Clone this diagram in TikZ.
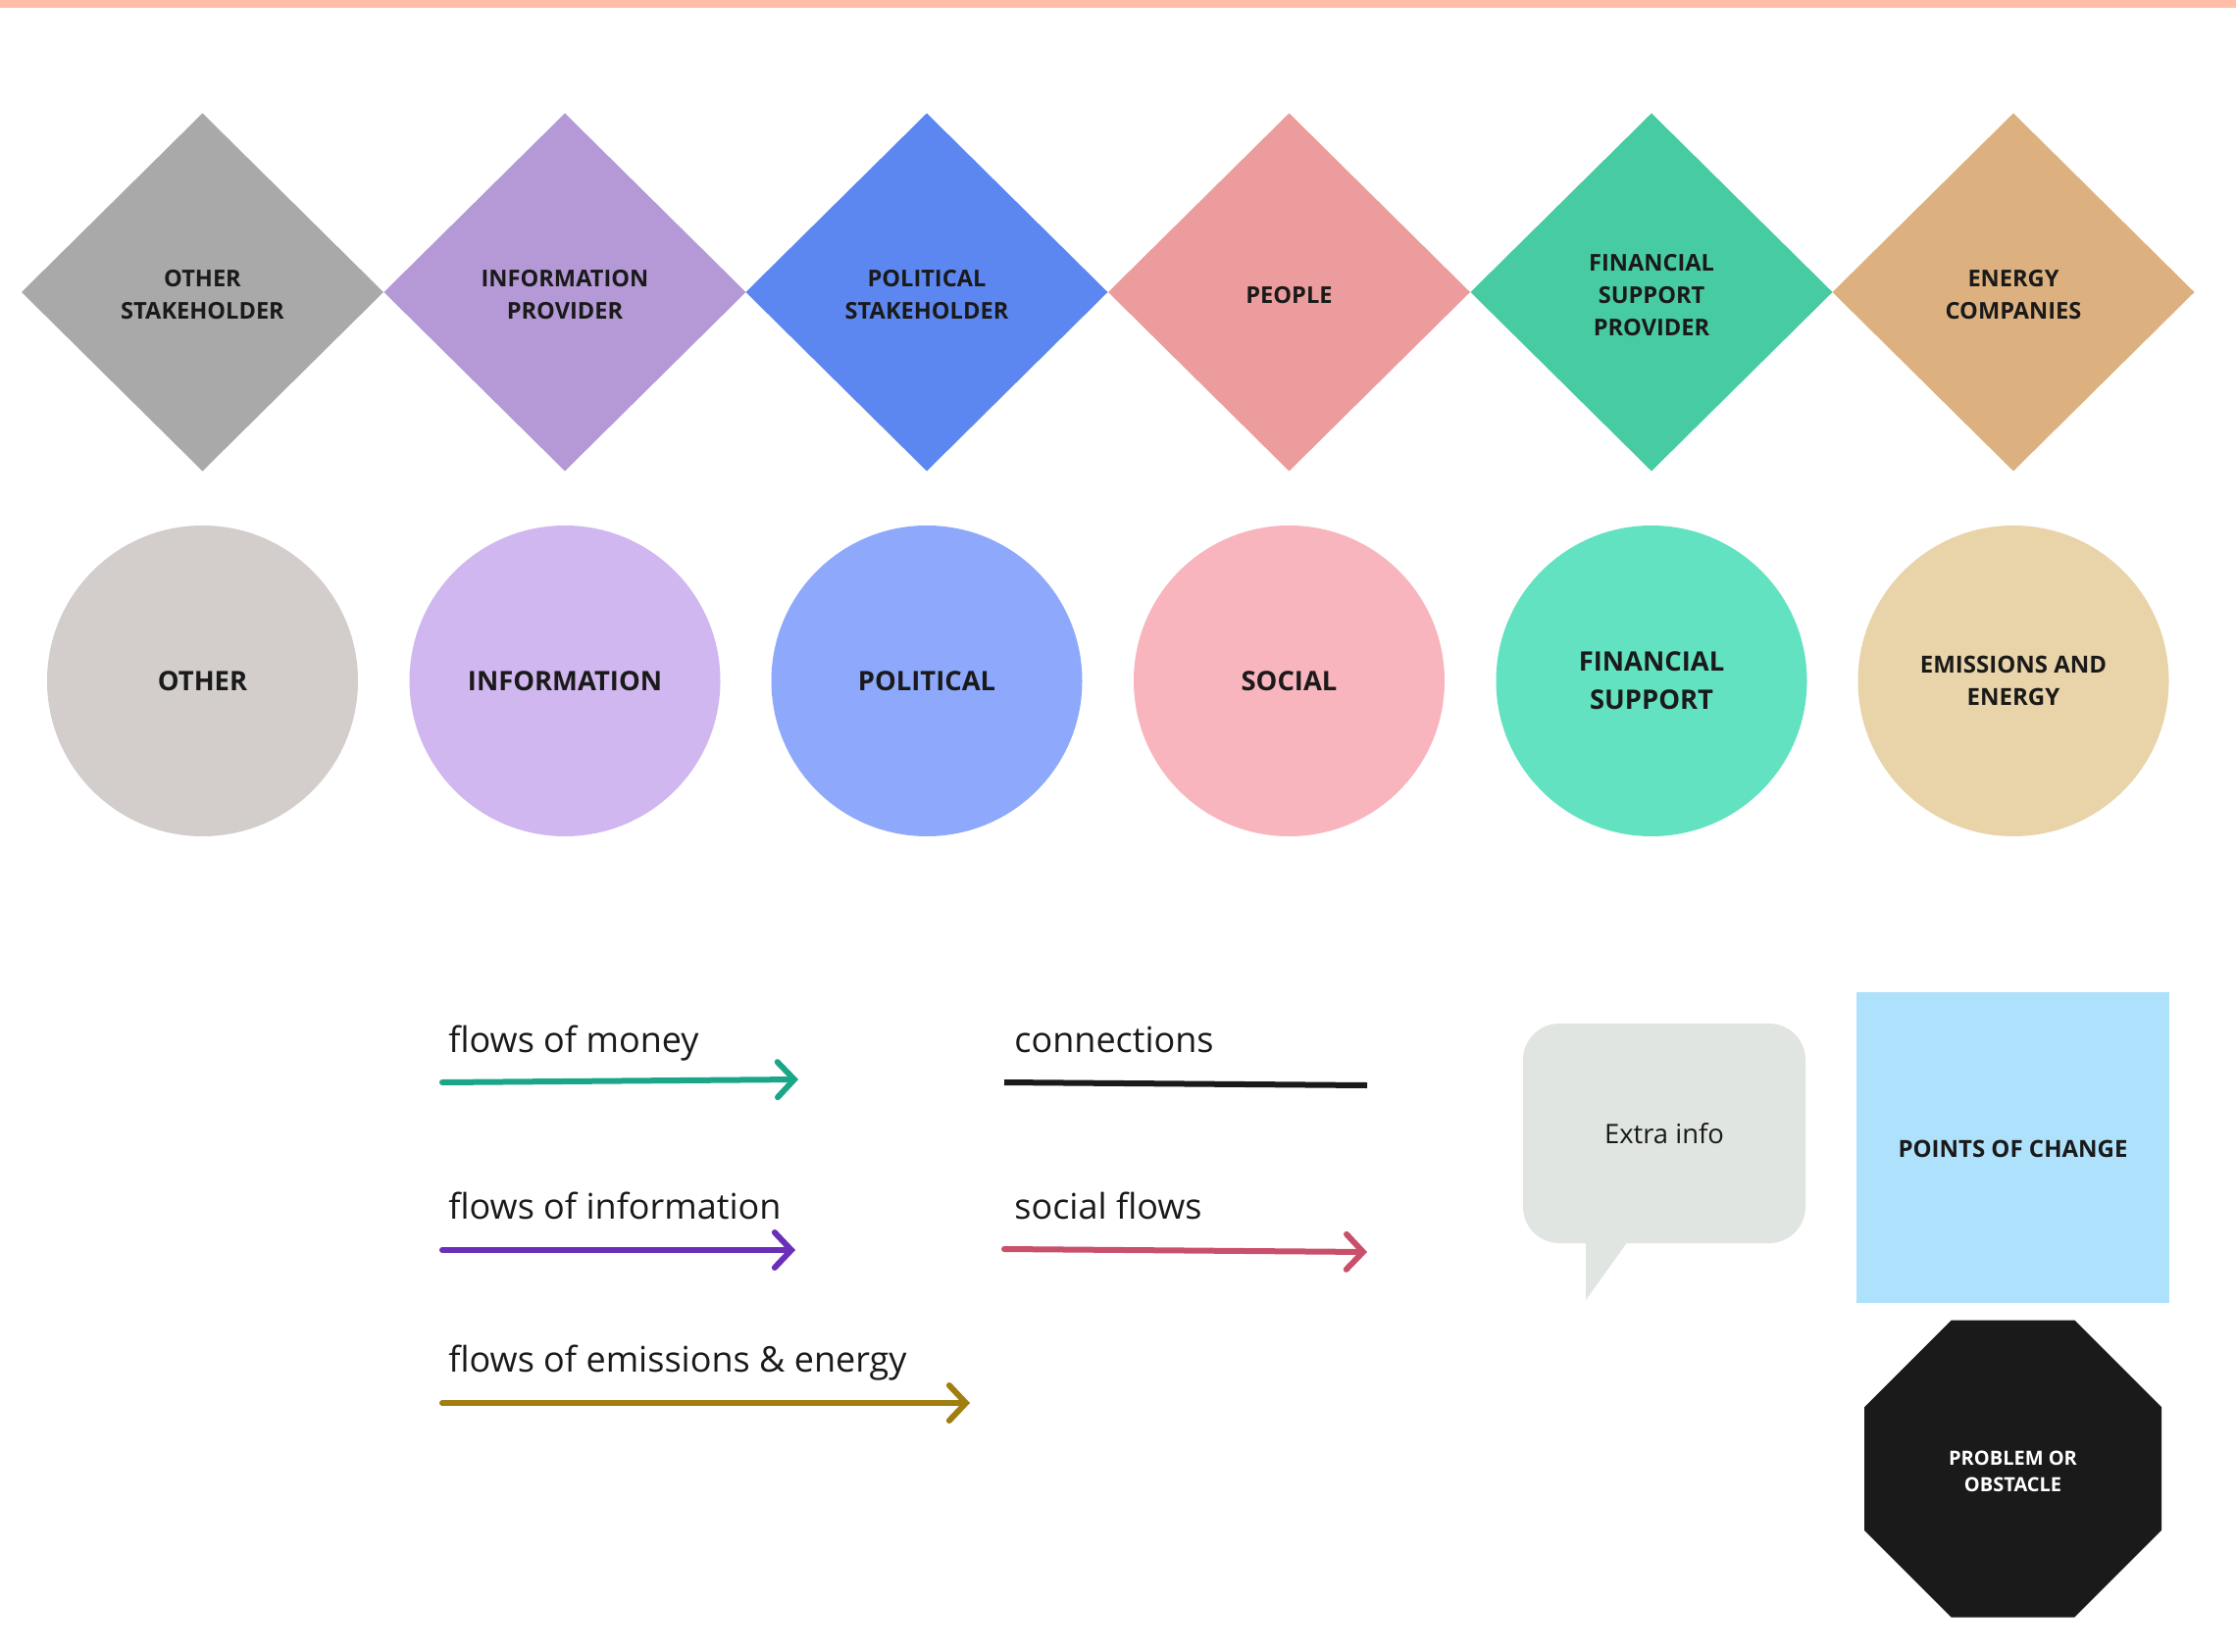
\documentclass[tikz,border=0pt]{standalone}
\usepackage{fontspec}
\setmainfont{Open Sans}
\usetikzlibrary{shapes.geometric,arrows.meta}
\definecolor{topbar}{HTML}{FFBEA5}
\definecolor{txt}{HTML}{1A1A1A}
\definecolor{dgrey}{HTML}{A9A9A9}
\definecolor{dpurple}{HTML}{B499D6}
\definecolor{dblue}{HTML}{5D87F0}
\definecolor{dpink}{HTML}{EC9C9C}
\definecolor{dgreen}{HTML}{47CBA3}
\definecolor{dtan}{HTML}{DDB17F}
\definecolor{cgrey}{HTML}{D3CDCC}
\definecolor{cpurple}{HTML}{D1B7F0}
\definecolor{cblue}{HTML}{8EA9FC}
\definecolor{cpink}{HTML}{F9B5BD}
\definecolor{cgreen}{HTML}{62E2C0}
\definecolor{ctan}{HTML}{E9D3A9}
\definecolor{money}{HTML}{1BA787}
\definecolor{info}{HTML}{6A2FB8}
\definecolor{emis}{HTML}{A07E10}
\definecolor{social}{HTML}{C9506A}
\definecolor{bub}{HTML}{E0E5E2}
\definecolor{poc}{HTML}{AEE1FB}
\begin{document}
\begin{tikzpicture}[x=0.5pt,y=-0.5pt,
  dia/.style={diamond, minimum width=184.5pt, minimum height=182.5pt, inner sep=0pt, outer sep=0pt, align=center, font=\bfseries\fontsize{11.8}{16.5}\selectfont, text=txt},
  dtext/.style={text=txt, align=center, inner sep=0pt, font=\bfseries\fontsize{11.8}{16.5}\selectfont},
  circ/.style={circle, minimum size=158.5pt, inner sep=0pt, outer sep=0pt, align=center, font=\bfseries\fontsize{13.7}{19.5}\selectfont, text=txt},
  lbl/.style={anchor=base west, font=\fontsize{18}{22}\selectfont, text=txt, inner sep=0pt},
  flow/.style={line width=3pt, line cap=round, -{Straight Barb[length=8.5pt,width=18pt,line cap=round]}},
]
\useasboundingbox (0,0) rectangle (2280,1685);
\fill[white] (0,0) rectangle (2280,1685);
\fill[topbar] (0,0) rectangle (2280,8);

% diamonds
\node[dia, fill=dgrey]   (d1) at (206.5,298) {};
\node[dia, fill=dpurple] (d2) at (576,298)   {};
\node[dia, fill=dblue]   (d3) at (945,298)   {};
\node[dia, fill=dpink]   (d4) at (1314.5,298){};
\node[dia, fill=dgreen]  (d5) at (1684,298)  {};
\node[dia, fill=dtan]    (d6) at (2053,298)  {};
\node[dtext] (t1) at ([yshift=-1.5pt]d1.center) {OTHER\\STAKEHOLDER};
\node[dtext] (t2) at ([yshift=-1.5pt]d2.center) {INFORMATION\\PROVIDER};
\node[dtext] (t3) at ([yshift=-1.5pt]d3.center) {POLITICAL\\STAKEHOLDER};
\node[dtext] (t4) at ([yshift=-1.5pt]d4.center) {PEOPLE};
\node[dtext] (t5) at ([yshift=-1.5pt]d5.center) {FINANCIAL\\SUPPORT\\PROVIDER};
\node[dtext] (t6) at ([yshift=-1.5pt]d6.center) {ENERGY\\COMPANIES};

% circles
\node[circ, fill=cgrey]   (c1) at (206.5,694.5) {OTHER};
\node[circ, fill=cpurple] (c2) at (576,694.5)   {INFORMATION};
\node[circ, fill=cblue]   (c3) at (945,694.5)   {POLITICAL};
\node[circ, fill=cpink]   (c4) at (1314.5,694.5){SOCIAL};
\node[circ, fill=cgreen]  (c5) at (1684,694.5)  {FINANCIAL\\SUPPORT};
\node[circ, fill=ctan, font=\bfseries\fontsize{12}{16.5}\selectfont] (c6) at (2053,694.5) {EMISSIONS AND\\ENERGY};

% legend
\node[lbl] (lm) at (457,1073) {flows of money};
\coordinate (m1) at (451,1104);
\coordinate (m2) at (814,1101);
\draw[flow, money] (m1) -- (m2);

\node[lbl] (li) at (457,1243) {flows of information};
\coordinate (i1) at (451,1275);
\coordinate (i2) at (811,1275);
\draw[flow, info] (i1) -- (i2);

\node[lbl] (le) at (457,1399) {flows of emissions \& energy};
\coordinate (e1) at (451,1431);
\coordinate (e2) at (989,1431);
\draw[flow, emis] (e1) -- (e2);

\node[lbl] (lc) at (1034,1073) {connections};
\coordinate (k1) at (1024,1104);
\coordinate (k2) at (1394,1107);
\draw[line width=3pt, txt] (k1) -- (k2);

\node[lbl] (ls) at (1034,1243) {social flows};
\coordinate (s1) at (1024,1274);
\coordinate (s2) at (1394,1277);
\draw[flow, social] (s1) -- (s2);

% speech bubble
\fill[bub] (1617,1250) -- (1617,1326) -- (1660,1266) -- cycle;
\node[rectangle, rounded corners=18.5pt, fill=bub, minimum width=144pt, minimum height=112pt, inner sep=0pt,
  font=\fontsize{13.7}{16}\selectfont, text=txt] (xinfo) at (1697,1156) {Extra info};

% points of change
\node[rectangle, fill=poc, minimum width=159.5pt, minimum height=158.5pt, inner sep=0pt,
  font=\bfseries\fontsize{12}{14}\selectfont, text=txt] (pc) at (2052.5,1170.5) {};
\node[text=txt, inner sep=0pt, font=\bfseries\fontsize{12}{14}\selectfont] (pct) at ([yshift=-0.5pt]pc.center) {POINTS OF CHANGE};

% problem octagon
\node[regular polygon, regular polygon sides=8, minimum size=164pt, inner sep=0pt, fill=txt] (po) at (2052.5,1498) {};
\node[text=white, align=center, inner sep=0pt, font=\bfseries\fontsize{10}{13.8}\selectfont] (pot) at ([yshift=-1.5pt]po.center) {PROBLEM OR\\OBSTACLE};
\end{tikzpicture}
\end{document}
